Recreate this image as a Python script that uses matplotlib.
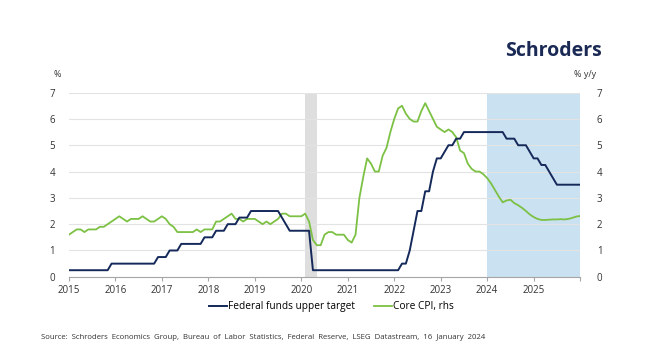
import numpy as np
import matplotlib
matplotlib.use("Agg")
import matplotlib.pyplot as plt

plt.rcParams['font.family'] = ['Open Sans', 'DejaVu Sans']

# monthly data, Jan 2015 to Jan 2026 (2024 onwards = forecast)
fed_funds = (
    [0.25] * 11 + [0.5]
    + [0.5] * 11 + [0.75]
    + [0.75, 0.75, 1.0, 1.0, 1.0, 1.25, 1.25, 1.25, 1.25, 1.25, 1.25, 1.5]
    + [1.5, 1.5, 1.75, 1.75, 1.75, 2.0, 2.0, 2.0, 2.25, 2.25, 2.25, 2.5]
    + [2.5] * 7 + [2.25, 2.0, 1.75, 1.75, 1.75]
    + [1.75, 1.75, 1.75] + [0.25] * 9
    + [0.25] * 12
    + [0.25, 0.25, 0.5, 0.5, 1.0, 1.75, 2.5, 2.5, 3.25, 3.25, 4.0, 4.5]
    + [4.5, 4.75, 5.0, 5.0, 5.25, 5.25] + [5.5] * 6
    + [5.5] * 5 + [5.25, 5.25, 5.25, 5.0, 5.0, 5.0, 4.75]
    + [4.5, 4.5, 4.25, 4.25, 4.0, 3.75] + [3.5] * 6
    + [3.5]
)

core_cpi = [
    1.6, 1.7, 1.8, 1.8, 1.7, 1.8, 1.8, 1.8, 1.9, 1.9, 2.0, 2.1,
    2.2, 2.3, 2.2, 2.1, 2.2, 2.2, 2.2, 2.3, 2.2, 2.1, 2.1, 2.2,
    2.3, 2.2, 2.0, 1.9, 1.7, 1.7, 1.7, 1.7, 1.7, 1.8, 1.7, 1.8,
    1.8, 1.8, 2.1, 2.1, 2.2, 2.3, 2.4, 2.2, 2.2, 2.1, 2.2, 2.2,
    2.2, 2.1, 2.0, 2.1, 2.0, 2.1, 2.2, 2.4, 2.4, 2.3, 2.3, 2.3,
    2.3, 2.4, 2.1, 1.4, 1.2, 1.2, 1.6, 1.7, 1.7, 1.6, 1.6, 1.6,
    1.4, 1.3, 1.6, 3.0, 3.8, 4.5, 4.3, 4.0, 4.0, 4.6, 4.9, 5.5,
    6.0, 6.4, 6.5, 6.2, 6.0, 5.9, 5.9, 6.3, 6.6, 6.3, 6.0, 5.7,
    5.6, 5.5, 5.6, 5.5, 5.3, 4.8, 4.7, 4.3, 4.1, 4.0, 4.0, 3.9,
    3.75, 3.55, 3.3, 3.05, 2.83, 2.9, 2.93, 2.8, 2.72, 2.62, 2.5, 2.37,
    2.27, 2.2, 2.16, 2.16, 2.17, 2.18, 2.18, 2.19, 2.18, 2.2, 2.24, 2.29,
    2.31,
]

years = list(range(2015, 2027))
year_labels = [str(y) for y in years[:-1]] + ['']
recession = (2020 + 1 / 12, 2020 + 4 / 12)
forecast = (2024, 2026)

navy = '#14295a'
green = '#7cc144'
dates = 2015 + np.arange(len(fed_funds)) / 12

fig = plt.figure(figsize=(6.63, 3.59), dpi=100)
ax = fig.add_axes([0.104, 0.229, 0.771, 0.513])

ax.axvspan(*recession, color='#dedede', lw=0, zorder=0.5)
ax.axvspan(*forecast, color='#c9e1f1', lw=0, zorder=0.5)

ax.plot(dates, core_cpi, color=green, lw=1.3, label='Core CPI, rhs', zorder=2)
ax.plot(dates, fed_funds, color=navy, lw=1.4, label='Federal funds upper target', zorder=3)

ax.set_xlim(2015, 2026)
ax.set_ylim(0, 7)
ax.set_yticks(range(0, 8))
ax.set_xticks(years)
ax.set_xticklabels(year_labels)
ax.set_axisbelow('line')
ax.grid(axis='y', color='#e3e3e3', lw=0.8)
for s in ['top', 'left', 'right']:
    ax.spines[s].set_visible(False)
ax.spines['bottom'].set_color('#a6a6a6')
ax.spines['bottom'].set_linewidth(0.8)
ax.tick_params(axis='x', length=3, color='#a6a6a6', labelsize=7, pad=3, labelcolor='#333333')
ax.tick_params(axis='y', length=0, labelsize=7, pad=10, labelcolor='#333333')

ax2 = ax.twinx()
ax2.set_ylim(0, 7)
ax2.set_yticks(range(0, 8))
for s in ['top', 'left', 'right', 'bottom']:
    ax2.spines[s].set_visible(False)
ax2.tick_params(axis='y', length=0, labelsize=7, pad=12, labelcolor='#333333')

fig.text(0.086, 0.785, '%', fontsize=6.5, color='#333333', ha='center')
fig.text(0.866, 0.785, '% y/y', fontsize=6.5, color='#333333', ha='left')
fig.text(0.908, 0.845, 'Schroders', fontsize=14, fontweight='bold', color='#1b2a55', ha='right')

h, l = ax.get_legend_handles_labels()
fig.legend(h[::-1], l[::-1], loc='center', bbox_to_anchor=(0.5, 0.145), ncol=2, frameon=False,
           fontsize=7.3, handlelength=1.8, handletextpad=0.15, columnspacing=1.8)

fig.text(0.062, 0.055, 'Source:  Schroders  Economics  Group,  Bureau  of  Labor  Statistics,  Federal  Reserve,  '
         'LSEG  Datastream,  16  January  2024', fontsize=5.6, color='#333333')

fig.savefig('out.png', dpi=100, facecolor='white')
